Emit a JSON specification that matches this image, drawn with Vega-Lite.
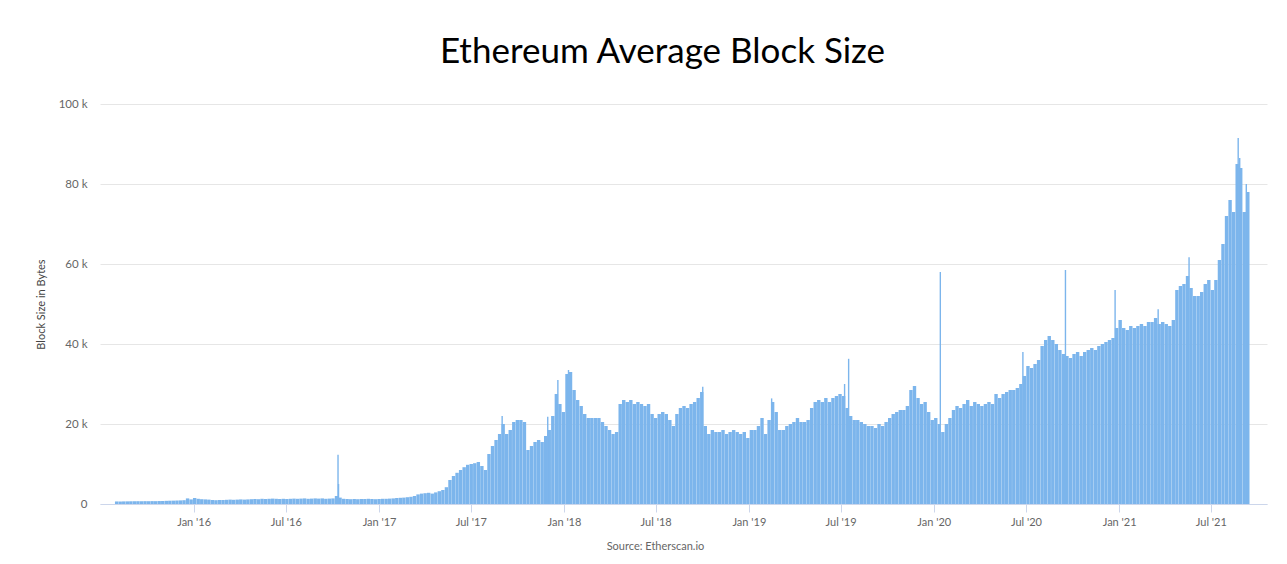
{
  "$schema": "https://vega.github.io/schema/vega-lite/v6.json",
  "width": 1167,
  "height": 400,
  "autosize": {"type": "none"},
  "padding": {"left": 100, "top": 104, "right": 20, "bottom": 60},
  "background": "white",
  "config": {"view": {"stroke": null}, "font": "Lato"},
  "title": {
    "text": "Ethereum Average Block Size",
    "anchor": "middle",
    "frame": "group",
    "dx": -21,
    "offset": 0,
    "baseline": "alphabetic",
    "font": "Lato",
    "fontSize": 35,
    "fontWeight": "normal",
    "color": "#000000"
  },
  "datasets": {
    "weekly": [
      {"date": "2015-08-02", "size": 640}, {"date": "2015-08-09", "size": 620}, {"date": "2015-08-16", "size": 650}, {"date": "2015-08-23", "size": 660}, {"date": "2015-08-30", "size": 680},
      {"date": "2015-09-06", "size": 690}, {"date": "2015-09-13", "size": 700}, {"date": "2015-09-20", "size": 690}, {"date": "2015-09-27", "size": 710},
      {"date": "2015-10-04", "size": 700}, {"date": "2015-10-11", "size": 720}, {"date": "2015-10-18", "size": 710}, {"date": "2015-10-25", "size": 740},
      {"date": "2015-11-01", "size": 760}, {"date": "2015-11-08", "size": 790}, {"date": "2015-11-15", "size": 820}, {"date": "2015-11-22", "size": 840}, {"date": "2015-11-29", "size": 870},
      {"date": "2015-12-06", "size": 900}, {"date": "2015-12-13", "size": 950}, {"date": "2015-12-20", "size": 1400}, {"date": "2015-12-27", "size": 1150},
      {"date": "2016-01-03", "size": 1500}, {"date": "2016-01-10", "size": 1300}, {"date": "2016-01-17", "size": 1200}, {"date": "2016-01-24", "size": 1150}, {"date": "2016-01-31", "size": 1100},
      {"date": "2016-02-07", "size": 1000}, {"date": "2016-02-14", "size": 950}, {"date": "2016-02-21", "size": 1000}, {"date": "2016-02-28", "size": 1000},
      {"date": "2016-03-06", "size": 1050}, {"date": "2016-03-13", "size": 1100}, {"date": "2016-03-20", "size": 1050}, {"date": "2016-03-27", "size": 1100},
      {"date": "2016-04-03", "size": 1150}, {"date": "2016-04-10", "size": 1100}, {"date": "2016-04-17", "size": 1150}, {"date": "2016-04-24", "size": 1200},
      {"date": "2016-05-01", "size": 1250}, {"date": "2016-05-08", "size": 1200}, {"date": "2016-05-15", "size": 1300}, {"date": "2016-05-22", "size": 1250}, {"date": "2016-05-29", "size": 1300},
      {"date": "2016-06-05", "size": 1350}, {"date": "2016-06-12", "size": 1300}, {"date": "2016-06-19", "size": 1250}, {"date": "2016-06-26", "size": 1300},
      {"date": "2016-07-03", "size": 1250}, {"date": "2016-07-10", "size": 1300}, {"date": "2016-07-17", "size": 1350}, {"date": "2016-07-24", "size": 1300}, {"date": "2016-07-31", "size": 1350},
      {"date": "2016-08-07", "size": 1400}, {"date": "2016-08-14", "size": 1300}, {"date": "2016-08-21", "size": 1350}, {"date": "2016-08-28", "size": 1400},
      {"date": "2016-09-04", "size": 1350}, {"date": "2016-09-11", "size": 1400}, {"date": "2016-09-18", "size": 1300}, {"date": "2016-09-25", "size": 1350},
      {"date": "2016-10-02", "size": 1400}, {"date": "2016-10-09", "size": 2000}, {"date": "2016-10-16", "size": 1600}, {"date": "2016-10-23", "size": 1300}, {"date": "2016-10-30", "size": 1250},
      {"date": "2016-11-06", "size": 1200}, {"date": "2016-11-13", "size": 1250}, {"date": "2016-11-20", "size": 1200}, {"date": "2016-11-27", "size": 1250},
      {"date": "2016-12-04", "size": 1250}, {"date": "2016-12-11", "size": 1300}, {"date": "2016-12-18", "size": 1250}, {"date": "2016-12-25", "size": 1200},
      {"date": "2017-01-01", "size": 1250}, {"date": "2017-01-08", "size": 1300}, {"date": "2017-01-15", "size": 1300}, {"date": "2017-01-22", "size": 1350}, {"date": "2017-01-29", "size": 1400},
      {"date": "2017-02-05", "size": 1500}, {"date": "2017-02-12", "size": 1550}, {"date": "2017-02-19", "size": 1600}, {"date": "2017-02-26", "size": 1700},
      {"date": "2017-03-05", "size": 1800}, {"date": "2017-03-12", "size": 2000}, {"date": "2017-03-19", "size": 2400}, {"date": "2017-03-26", "size": 2600},
      {"date": "2017-04-02", "size": 2700}, {"date": "2017-04-09", "size": 2800}, {"date": "2017-04-16", "size": 2600}, {"date": "2017-04-23", "size": 2900}, {"date": "2017-04-30", "size": 3200},
      {"date": "2017-05-07", "size": 3500}, {"date": "2017-05-14", "size": 4200}, {"date": "2017-05-21", "size": 6000}, {"date": "2017-05-28", "size": 7000},
      {"date": "2017-06-04", "size": 7800}, {"date": "2017-06-11", "size": 8500}, {"date": "2017-06-18", "size": 9200}, {"date": "2017-06-25", "size": 9800},
      {"date": "2017-07-02", "size": 10000}, {"date": "2017-07-09", "size": 10200}, {"date": "2017-07-16", "size": 10500}, {"date": "2017-07-23", "size": 9500}, {"date": "2017-07-30", "size": 8500},
      {"date": "2017-08-06", "size": 12500}, {"date": "2017-08-13", "size": 14500}, {"date": "2017-08-20", "size": 16000}, {"date": "2017-08-27", "size": 17500},
      {"date": "2017-09-03", "size": 20000}, {"date": "2017-09-10", "size": 17500}, {"date": "2017-09-17", "size": 18500}, {"date": "2017-09-24", "size": 20500},
      {"date": "2017-10-01", "size": 21000}, {"date": "2017-10-08", "size": 21000}, {"date": "2017-10-15", "size": 20500}, {"date": "2017-10-22", "size": 13500}, {"date": "2017-10-29", "size": 14500},
      {"date": "2017-11-05", "size": 15500}, {"date": "2017-11-12", "size": 16000}, {"date": "2017-11-19", "size": 15500}, {"date": "2017-11-26", "size": 17000},
      {"date": "2017-12-03", "size": 18500}, {"date": "2017-12-10", "size": 22000}, {"date": "2017-12-17", "size": 27500}, {"date": "2017-12-24", "size": 25000}, {"date": "2017-12-31", "size": 23000},
      {"date": "2018-01-07", "size": 32500}, {"date": "2018-01-14", "size": 33000}, {"date": "2018-01-21", "size": 28500}, {"date": "2018-01-28", "size": 26000},
      {"date": "2018-02-04", "size": 24500}, {"date": "2018-02-11", "size": 22500}, {"date": "2018-02-18", "size": 21500}, {"date": "2018-02-25", "size": 21500},
      {"date": "2018-03-04", "size": 21500}, {"date": "2018-03-11", "size": 21500}, {"date": "2018-03-18", "size": 20500}, {"date": "2018-03-25", "size": 19500},
      {"date": "2018-04-01", "size": 18500}, {"date": "2018-04-08", "size": 17500}, {"date": "2018-04-15", "size": 18000}, {"date": "2018-04-22", "size": 25000}, {"date": "2018-04-29", "size": 26000},
      {"date": "2018-05-06", "size": 25500}, {"date": "2018-05-13", "size": 26000}, {"date": "2018-05-20", "size": 25000}, {"date": "2018-05-27", "size": 25500},
      {"date": "2018-06-03", "size": 25000}, {"date": "2018-06-10", "size": 24500}, {"date": "2018-06-17", "size": 25000}, {"date": "2018-06-24", "size": 22500},
      {"date": "2018-07-01", "size": 21500}, {"date": "2018-07-08", "size": 22500}, {"date": "2018-07-15", "size": 23000}, {"date": "2018-07-22", "size": 22500}, {"date": "2018-07-29", "size": 21000},
      {"date": "2018-08-05", "size": 19500}, {"date": "2018-08-12", "size": 22500}, {"date": "2018-08-19", "size": 24000}, {"date": "2018-08-26", "size": 24500},
      {"date": "2018-09-02", "size": 24000}, {"date": "2018-09-09", "size": 25000}, {"date": "2018-09-16", "size": 25500}, {"date": "2018-09-23", "size": 26500}, {"date": "2018-09-30", "size": 28000},
      {"date": "2018-10-07", "size": 19500}, {"date": "2018-10-14", "size": 17500}, {"date": "2018-10-21", "size": 18500}, {"date": "2018-10-28", "size": 18000},
      {"date": "2018-11-04", "size": 18000}, {"date": "2018-11-11", "size": 18500}, {"date": "2018-11-18", "size": 17500}, {"date": "2018-11-25", "size": 18000},
      {"date": "2018-12-02", "size": 18500}, {"date": "2018-12-09", "size": 18000}, {"date": "2018-12-16", "size": 17500}, {"date": "2018-12-23", "size": 18000}, {"date": "2018-12-30", "size": 16500},
      {"date": "2019-01-06", "size": 18500}, {"date": "2019-01-13", "size": 18500}, {"date": "2019-01-20", "size": 19500}, {"date": "2019-01-27", "size": 21500},
      {"date": "2019-02-03", "size": 17500}, {"date": "2019-02-10", "size": 21000}, {"date": "2019-02-17", "size": 25500}, {"date": "2019-02-24", "size": 23000},
      {"date": "2019-03-03", "size": 18500}, {"date": "2019-03-10", "size": 18500}, {"date": "2019-03-17", "size": 19500}, {"date": "2019-03-24", "size": 20000}, {"date": "2019-03-31", "size": 20500},
      {"date": "2019-04-07", "size": 21500}, {"date": "2019-04-14", "size": 20500}, {"date": "2019-04-21", "size": 20500}, {"date": "2019-04-28", "size": 21000},
      {"date": "2019-05-05", "size": 24000}, {"date": "2019-05-12", "size": 25500}, {"date": "2019-05-19", "size": 26000}, {"date": "2019-05-26", "size": 25500},
      {"date": "2019-06-02", "size": 26500}, {"date": "2019-06-09", "size": 25500}, {"date": "2019-06-16", "size": 26500}, {"date": "2019-06-23", "size": 27000}, {"date": "2019-06-30", "size": 27500},
      {"date": "2019-07-07", "size": 27000}, {"date": "2019-07-14", "size": 24000}, {"date": "2019-07-21", "size": 22000}, {"date": "2019-07-28", "size": 21000},
      {"date": "2019-08-04", "size": 21000}, {"date": "2019-08-11", "size": 20500}, {"date": "2019-08-18", "size": 20000}, {"date": "2019-08-25", "size": 19500},
      {"date": "2019-09-01", "size": 19500}, {"date": "2019-09-08", "size": 19000}, {"date": "2019-09-15", "size": 20000}, {"date": "2019-09-22", "size": 19500}, {"date": "2019-09-29", "size": 20500},
      {"date": "2019-10-06", "size": 21500}, {"date": "2019-10-13", "size": 22500}, {"date": "2019-10-20", "size": 23000}, {"date": "2019-10-27", "size": 23500},
      {"date": "2019-11-03", "size": 23500}, {"date": "2019-11-10", "size": 24500}, {"date": "2019-11-17", "size": 28500}, {"date": "2019-11-24", "size": 29500},
      {"date": "2019-12-01", "size": 26500}, {"date": "2019-12-08", "size": 25000}, {"date": "2019-12-15", "size": 25500}, {"date": "2019-12-22", "size": 23000}, {"date": "2019-12-29", "size": 21000},
      {"date": "2020-01-05", "size": 21500}, {"date": "2020-01-12", "size": 20000}, {"date": "2020-01-19", "size": 18000}, {"date": "2020-01-26", "size": 20000},
      {"date": "2020-02-02", "size": 21500}, {"date": "2020-02-09", "size": 23500}, {"date": "2020-02-16", "size": 24500}, {"date": "2020-02-23", "size": 24000},
      {"date": "2020-03-01", "size": 25000}, {"date": "2020-03-08", "size": 26000}, {"date": "2020-03-15", "size": 24500}, {"date": "2020-03-22", "size": 25500}, {"date": "2020-03-29", "size": 25000},
      {"date": "2020-04-05", "size": 24500}, {"date": "2020-04-12", "size": 25000}, {"date": "2020-04-19", "size": 25500}, {"date": "2020-04-26", "size": 25000},
      {"date": "2020-05-03", "size": 27500}, {"date": "2020-05-10", "size": 26500}, {"date": "2020-05-17", "size": 27500}, {"date": "2020-05-24", "size": 28000}, {"date": "2020-05-31", "size": 28500},
      {"date": "2020-06-07", "size": 28500}, {"date": "2020-06-14", "size": 29000}, {"date": "2020-06-21", "size": 30000}, {"date": "2020-06-28", "size": 32000},
      {"date": "2020-07-05", "size": 34500}, {"date": "2020-07-12", "size": 34000}, {"date": "2020-07-19", "size": 35000}, {"date": "2020-07-26", "size": 36000},
      {"date": "2020-08-02", "size": 39500}, {"date": "2020-08-09", "size": 41000}, {"date": "2020-08-16", "size": 42000}, {"date": "2020-08-23", "size": 41000}, {"date": "2020-08-30", "size": 40000},
      {"date": "2020-09-06", "size": 38500}, {"date": "2020-09-13", "size": 37500}, {"date": "2020-09-20", "size": 37000}, {"date": "2020-09-27", "size": 36500},
      {"date": "2020-10-04", "size": 37500}, {"date": "2020-10-11", "size": 38000}, {"date": "2020-10-18", "size": 37000}, {"date": "2020-10-25", "size": 38000},
      {"date": "2020-11-01", "size": 38500}, {"date": "2020-11-08", "size": 39000}, {"date": "2020-11-15", "size": 38500}, {"date": "2020-11-22", "size": 39500}, {"date": "2020-11-29", "size": 40000},
      {"date": "2020-12-06", "size": 40500}, {"date": "2020-12-13", "size": 41000}, {"date": "2020-12-20", "size": 41500}, {"date": "2020-12-27", "size": 44000},
      {"date": "2021-01-03", "size": 46000}, {"date": "2021-01-10", "size": 44000}, {"date": "2021-01-17", "size": 43500}, {"date": "2021-01-24", "size": 44500}, {"date": "2021-01-31", "size": 44000},
      {"date": "2021-02-07", "size": 44500}, {"date": "2021-02-14", "size": 45000}, {"date": "2021-02-21", "size": 44500}, {"date": "2021-02-28", "size": 45500},
      {"date": "2021-03-07", "size": 45500}, {"date": "2021-03-14", "size": 46500}, {"date": "2021-03-21", "size": 45000}, {"date": "2021-03-28", "size": 45500},
      {"date": "2021-04-04", "size": 45000}, {"date": "2021-04-11", "size": 44500}, {"date": "2021-04-18", "size": 46000}, {"date": "2021-04-25", "size": 53500},
      {"date": "2021-05-02", "size": 54500}, {"date": "2021-05-09", "size": 55000}, {"date": "2021-05-16", "size": 57000}, {"date": "2021-05-23", "size": 54000}, {"date": "2021-05-30", "size": 52000},
      {"date": "2021-06-06", "size": 52000}, {"date": "2021-06-13", "size": 53000}, {"date": "2021-06-20", "size": 55000}, {"date": "2021-06-27", "size": 56000},
      {"date": "2021-07-04", "size": 53500}, {"date": "2021-07-11", "size": 56000}, {"date": "2021-07-18", "size": 61000}, {"date": "2021-07-25", "size": 65000},
      {"date": "2021-08-01", "size": 72000}, {"date": "2021-08-08", "size": 76000}, {"date": "2021-08-15", "size": 73000}, {"date": "2021-08-22", "size": 85000}, {"date": "2021-08-29", "size": 84000},
      {"date": "2021-09-05", "size": 73000}, {"date": "2021-09-12", "size": 78000}
    ],
    "daily": [
      {"date": "2016-10-12", "size": 12300}, {"date": "2016-10-13", "size": 5000},
      {"date": "2017-09-01", "size": 22000}, {"date": "2017-11-30", "size": 21800},
      {"date": "2017-12-20", "size": 31000}, {"date": "2018-01-10", "size": 33500},
      {"date": "2018-10-02", "size": 29300}, {"date": "2019-02-15", "size": 26400},
      {"date": "2019-07-09", "size": 30000}, {"date": "2019-07-17", "size": 36300},
      {"date": "2020-01-14", "size": 58000}, {"date": "2020-06-25", "size": 38000},
      {"date": "2020-09-17", "size": 58500}, {"date": "2020-12-24", "size": 53500},
      {"date": "2021-03-19", "size": 48700}, {"date": "2021-05-19", "size": 61700},
      {"date": "2021-08-24", "size": 91500}, {"date": "2021-08-27", "size": 86500},
      {"date": "2021-09-09", "size": 80000}
    ]
  },
  "encoding": {
    "x": {
      "field": "date",
      "type": "temporal",
      "scale": {"type": "utc", "domain": ["2015-07-10", "2021-10-10"], "nice": false},
      "axis": {
        "title": "Source: Etherscan.io",
        "titleX": 555,
        "titleY": 42,
        "titleAlign": "center",
        "titleBaseline": "middle",
        "titleFont": "Lato",
        "titleFontSize": 11,
        "titleFontWeight": "normal",
        "titleColor": "#666666",
        "labelExpr": "utcFormat(datum.value, \"%b '%y\")",
        "values": [
          {"year": 2016, "month": "jan", "date": 1, "utc": true},
          {"year": 2016, "month": "jul", "date": 1, "utc": true},
          {"year": 2017, "month": "jan", "date": 1, "utc": true},
          {"year": 2017, "month": "jul", "date": 1, "utc": true},
          {"year": 2018, "month": "jan", "date": 1, "utc": true},
          {"year": 2018, "month": "jul", "date": 1, "utc": true},
          {"year": 2019, "month": "jan", "date": 1, "utc": true},
          {"year": 2019, "month": "jul", "date": 1, "utc": true},
          {"year": 2020, "month": "jan", "date": 1, "utc": true},
          {"year": 2020, "month": "jul", "date": 1, "utc": true},
          {"year": 2021, "month": "jan", "date": 1, "utc": true},
          {"year": 2021, "month": "jul", "date": 1, "utc": true}
        ],
        "labelFont": "Lato",
        "labelFontSize": 11,
        "labelColor": "#666666",
        "labelPadding": 4,
        "tickSize": 8,
        "tickColor": "#ccd6eb",
        "domainColor": "#ccd6eb",
        "grid": false,
        "labelFlush": false
      }
    },
    "y": {
      "field": "size",
      "type": "quantitative",
      "scale": {"domain": [0, 100000], "nice": false},
      "axis": {
        "title": "Block Size in Bytes",
        "titleX": -59,
        "titleY": 200,
        "titleAngle": -90,
        "titleAlign": "center",
        "titleBaseline": "middle",
        "titleFont": "Lato",
        "titleFontSize": 11,
        "titleFontWeight": "normal",
        "titleColor": "#444444",
        "values": [0, 20000, 40000, 60000, 80000, 100000],
        "labelExpr": "datum.value == 0 ? '0' : (datum.value / 1000) + ' k'",
        "labelFont": "Lato",
        "labelFontSize": 11.5,
        "labelColor": "#666666",
        "labelPadding": 13,
        "ticks": false,
        "domain": false,
        "grid": true,
        "gridColor": "#e6e6e6"
      }
    }
  },
  "layer": [
    {
      "data": {"name": "weekly"},
      "mark": {"type": "bar", "width": 3.4, "color": "#7cb5ec"}
    },
    {
      "data": {"name": "daily"},
      "mark": {"type": "bar", "width": 1.4, "color": "#7cb5ec"}
    }
  ]
}
